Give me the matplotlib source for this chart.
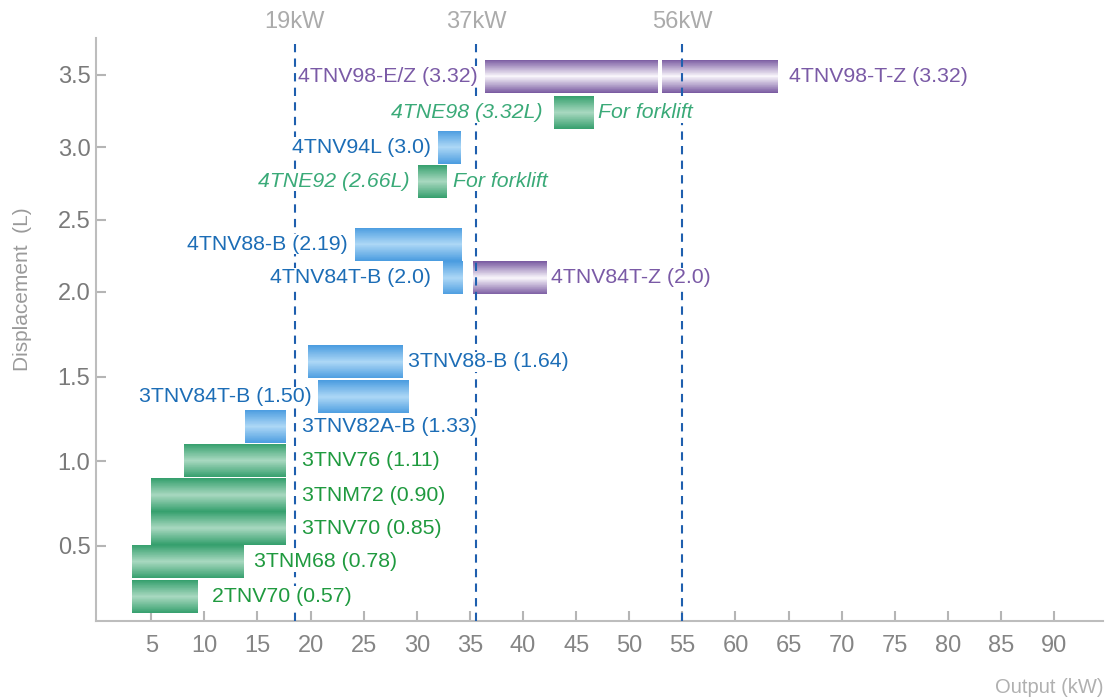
import numpy as np
import matplotlib.pyplot as plt
from matplotlib.colors import to_rgb
import matplotlib.transforms as mtransforms

plt.rcParams['font.family'] = ['Liberation Sans', 'DejaVu Sans']

# engine bars, top to bottom (output range in kW, row position on displacement axis)
bar_start = [36.4, 53.1, 42.9, 32.0, 30.1, 24.2, 32.5, 35.3, 19.8, 20.7, 13.8, 8.1, 5.0, 5.0, 3.2, 3.2]
bar_end = [52.7, 64.05, 46.7, 34.15, 32.85, 34.3, 34.35, 42.3, 28.7, 29.3, 17.7, 17.7, 17.7, 17.7, 13.75, 9.4]
bar_row = [3.49, 3.49, 3.24, 3.0, 2.764, 2.33, 2.097, 2.097, 1.587, 1.38, 1.206, 1.005, 0.801, 0.606, 0.408, 0.201]
bar_group = ['tz', 'tz', 'fork', 'b', 'fork', 'b', 'b', 'tz', 'b', 'b', 'b', 'g', 'g', 'g', 'g', 'g']
text_left = ['4TNV98-E/Z (3.32)', '', '4TNE98 (3.32L)', '4TNV94L (3.0)', '4TNE92 (2.66L)',
             '4TNV88-B (2.19)', '4TNV84T-B (2.0)', '', '', '3TNV84T-B (1.50)', '', '', '', '', '', '']
text_right = ['', '4TNV98-T-Z (3.32)', 'For forklift', '', 'For forklift', '', '', '4TNV84T-Z (2.0)',
              '3TNV88-B (1.64)', '', '3TNV82A-B (1.33)', '3TNV76 (1.11)', '3TNM72 (0.90)',
              '3TNV70 (0.85)', '3TNM68 (0.78)', '2TNV70 (0.57)']

limit_pos = [18.5, 35.6, 55.0]
limit_text = ['19kW', '37kW', '56kW']
x_ticks = list(range(5, 95, 5))
y_ticks = [0.5, 1.0, 1.5, 2.0, 2.5, 3.0, 3.5]

# label gaps in pixels
gap_left = [7, 0, 11, 7, 8, 7, 12, 0, 0, 6, 0, 0, 0, 0, 0, 0]
gap_right = [0, 11, 4, 0, 6, 0, 0, 4, 5, 0, 16, 16, 16, 16, 10, 14]

bar_colors = {  # (edge, centre)
    'tz': ('#7b5ca2', '#fbf9fd'),
    'b': ('#4c9de0', '#aed8f6'),
    'fork': ('#36a06e', '#aad9c1'),
    'g': ('#36a06e', '#aad9c1'),
}
text_colors = {'tz': '#7a5aa6', 'b': '#1c6db6', 'fork': '#3aaa78', 'g': '#1f9a3f'}

# the displacement axis is squeezed above 2.0 L
K = 0.855
def fwd(v):
    v = np.asarray(v, dtype=float)
    return np.where(v < 2, v, 2 + (v - 2) * K)
def inv(u):
    u = np.asarray(u, dtype=float)
    return np.where(u < 2, u, 2 + (u - 2) / K)

fig = plt.figure(figsize=(11.1, 6.99), dpi=100)
ax = fig.add_axes([0.0865, 0.1116, 0.9072, 0.834])
ax.set_yscale('function', functions=(fwd, inv))
ax.set_xlim(-0.2, 94.6)
ax.set_ylim(0.057, 3.754)

BAR_H = 0.195
N = 40
start = np.array(bar_start)
width = np.array(bar_end) - start
row = np.array(bar_row)
grp = np.array(bar_group)
for g, (edge, centre) in bar_colors.items():
    m = grp == g
    if not m.any():
        continue
    e, c = np.array(to_rgb(edge)), np.array(to_rgb(centre))
    for k in range(N):
        f = k / N
        hh = BAR_H * (1 - f)
        lo = inv(fwd(row[m]) - hh / 2)
        hi = inv(fwd(row[m]) + hh / 2)
        ax.barh(lo, width[m], height=hi - lo, left=start[m], align='edge',
                color=e + (c - e) * f, linewidth=0, zorder=2)

# labels (white box hides the dashed lines behind them)
box = dict(facecolor='white', edgecolor='none', pad=0.5)
for i in range(len(row)):
    col = text_colors[bar_group[i]]
    style = 'italic' if bar_group[i] == 'fork' else 'normal'
    if text_left[i]:
        ax.annotate(text_left[i], xy=(bar_start[i], bar_row[i]), xytext=(-gap_left[i], 0),
                    textcoords='offset pixels', ha='right', va='center', fontsize=15.3,
                    color=col, style=style, zorder=4, bbox=box)
    if text_right[i]:
        ax.annotate(text_right[i], xy=(bar_end[i], bar_row[i]), xytext=(gap_right[i], 0),
                    textcoords='offset pixels', ha='left', va='center', fontsize=15.3,
                    color=col, style=style, zorder=4, bbox=box)

# power limit lines
trans = mtransforms.blended_transform_factory(ax.transData, ax.transAxes)
for xp, t in zip(limit_pos, limit_text):
    ax.axvline(xp, ymax=0.99, color='#1f5fae', lw=1.5, dashes=(4, 3), zorder=3)
    ax.annotate(t, xy=(xp, 1.0), xycoords=trans, xytext=(0, 16), textcoords='offset pixels',
                ha='center', va='center', fontsize=17, color='#ababab')

for side in ['top', 'right']:
    ax.spines[side].set_visible(False)
for side in ['left', 'bottom']:
    ax.spines[side].set_color('#bdbdbd')
    ax.spines[side].set_linewidth(1.5)

ax.set_xticks(x_ticks)
ax.set_yticks(y_ticks)
ax.set_yticklabels(['%.1f' % v for v in y_ticks])
ax.yaxis.set_minor_locator(plt.NullLocator())
ax.tick_params(axis='both', direction='in', length=7, width=1.5, color='#b5b5b5')
ax.tick_params(axis='y', labelsize=17, labelcolor='#7a7a7a', pad=4)
ax.tick_params(axis='x', labelsize=17, labelcolor='#858585', pad=10)

ax.set_ylabel('Displacement  (L)', fontsize=15, color='#9a9a9a')
ax.yaxis.set_label_coords(-0.064, 0.57)
fig.text(0.9937, 0.017, 'Output (kW)', ha='right', va='center', fontsize=14.5, color='#b0b0b0')

fig.savefig('out.png', dpi=100)
